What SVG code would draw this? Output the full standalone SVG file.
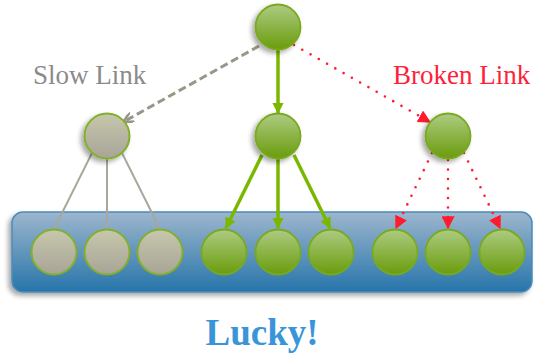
<svg xmlns="http://www.w3.org/2000/svg" width="538" height="358" viewBox="0 0 538 358">
  <defs>
    <linearGradient id="gGreen" x1="0" y1="0" x2="0" y2="1">
      <stop offset="0" stop-color="#adcb82"/>
      <stop offset="1" stop-color="#6a9c0c"/>
    </linearGradient>
    <linearGradient id="gGray" x1="0" y1="0" x2="0" y2="1">
      <stop offset="0" stop-color="#c6c8ac"/>
      <stop offset="1" stop-color="#a8a497"/>
    </linearGradient>
    <linearGradient id="gBar" x1="0" y1="0" x2="0" y2="1">
      <stop offset="0" stop-color="#9db6cd"/>
      <stop offset="1" stop-color="#2675aa"/>
    </linearGradient>
    <filter id="shadow" x="-30%" y="-30%" width="160%" height="160%">
      <feGaussianBlur in="SourceAlpha" stdDeviation="2.5"/>
      <feOffset dx="-3" dy="3" result="b"/>
      <feComponentTransfer><feFuncA type="linear" slope="0.35"/></feComponentTransfer>
      <feMerge><feMergeNode/><feMergeNode in="SourceGraphic"/></feMerge>
    </filter>
    <marker id="arrGreen" viewBox="0 0 10 10" refX="9" refY="5" markerWidth="3.2" markerHeight="3.2" orient="auto" markerUnits="strokeWidth">
      <path d="M0,0 L10,5 L0,10 z" fill="#7ab800"/>
    </marker>
    <marker id="arrRed" viewBox="0 0 10 10" refX="9" refY="5" markerWidth="5" markerHeight="5" orient="auto" markerUnits="strokeWidth">
      <path d="M0,0 L10,5 L0,10 z" fill="#ff1a2e"/>
    </marker>
    <marker id="arrGray" viewBox="0 0 10 10" refX="8" refY="5" markerWidth="3.5" markerHeight="3.5" orient="auto" markerUnits="strokeWidth">
      <path d="M0,0 L10,5 L0,10" fill="none" stroke="#9a978a" stroke-width="2.5"/>
    </marker>
  </defs>
  <style>
    .node { fill: url(#gGreen); stroke: #79a91e; stroke-width: 1.8; }
    .slow { fill: url(#gGray); stroke: #82b02a; stroke-width: 2; }
    .lbl { font-family: "Liberation Serif", "Times New Roman", serif; font-size: 27px; }
    .c-green { stroke: #7ab800; stroke-width: 3.5; fill: none; }
    .c-gray { stroke: #aaa69a; stroke-width: 2; fill: none; }
    .c-red { stroke: #ff1a2e; stroke-width: 2.6; fill: none; stroke-dasharray: 0 9.5; stroke-linecap: round; }
    .c-dash { stroke: #9a978a; stroke-width: 3; fill: none; stroke-dasharray: 8 4; }
  </style>

  <rect id="bar" x="12" y="212" width="520" height="80" rx="11" fill="url(#gBar)" stroke="#4a8cbc" stroke-width="1.5" filter="url(#shadow)"/>

  <text class="lbl" x="33" y="84" fill="#8a8a8a">Slow Link</text>
  <text class="lbl" x="393" y="84" fill="#ff1f3a">Broken Link</text>
  <text x="262" y="345" text-anchor="middle" font-family="Liberation Serif, Times New Roman, serif" font-weight="bold" font-size="37" fill="#3a95d8">Lucky!</text>

  <g id="connectors">
    <line class="c-dash" x1="259" y1="46" x2="125" y2="121" marker-end="url(#arrGray)"/>
    <line class="c-green" x1="278" y1="50" x2="278" y2="113" marker-end="url(#arrGreen)"/>
    <line class="c-red" x1="294" y1="45" x2="430" y2="122" marker-end="url(#arrRed)"/>

    <line class="c-gray" x1="92" y1="153" x2="54" y2="229"/>
    <line class="c-gray" x1="107" y1="159" x2="107" y2="229"/>
    <line class="c-gray" x1="122" y1="153" x2="160" y2="229"/>

    <line class="c-green" x1="262" y1="155" x2="226" y2="228" marker-end="url(#arrGreen)"/>
    <line class="c-green" x1="278" y1="159" x2="278" y2="228" marker-end="url(#arrGreen)"/>
    <line class="c-green" x1="294" y1="155" x2="330" y2="228" marker-end="url(#arrGreen)"/>

    <line class="c-red" x1="432" y1="153" x2="396" y2="228" marker-end="url(#arrRed)"/>
    <line class="c-red" x1="448" y1="160" x2="448" y2="228" marker-end="url(#arrRed)"/>
    <line class="c-red" x1="464" y1="153" x2="500" y2="228" marker-end="url(#arrRed)"/>
  </g>

  <g id="root"><circle class="node" cx="278" cy="27" r="22.5" filter="url(#shadow)"/></g>
  <g id="mid-slow"><circle class="slow" cx="107" cy="136" r="22.5" filter="url(#shadow)"/></g>
  <g id="mid-ok"><circle class="node" cx="278" cy="136" r="22.5" filter="url(#shadow)"/></g>
  <g id="mid-broken"><circle class="node" cx="448" cy="136" r="22.5" filter="url(#shadow)"/></g>

  <g id="leaf-1"><circle class="slow" cx="54" cy="252" r="22.5"/></g>
  <g id="leaf-2"><circle class="slow" cx="107" cy="252" r="22.5"/></g>
  <g id="leaf-3"><circle class="slow" cx="160" cy="252" r="22.5"/></g>
  <g id="leaf-4"><circle class="node" cx="224" cy="252" r="22.5"/></g>
  <g id="leaf-5"><circle class="node" cx="278" cy="252" r="22.5"/></g>
  <g id="leaf-6"><circle class="node" cx="331" cy="252" r="22.5"/></g>
  <g id="leaf-7"><circle class="node" cx="395" cy="252" r="22.5"/></g>
  <g id="leaf-8"><circle class="node" cx="448" cy="252" r="22.5"/></g>
  <g id="leaf-9"><circle class="node" cx="502" cy="252" r="22.5"/></g>
</svg>
